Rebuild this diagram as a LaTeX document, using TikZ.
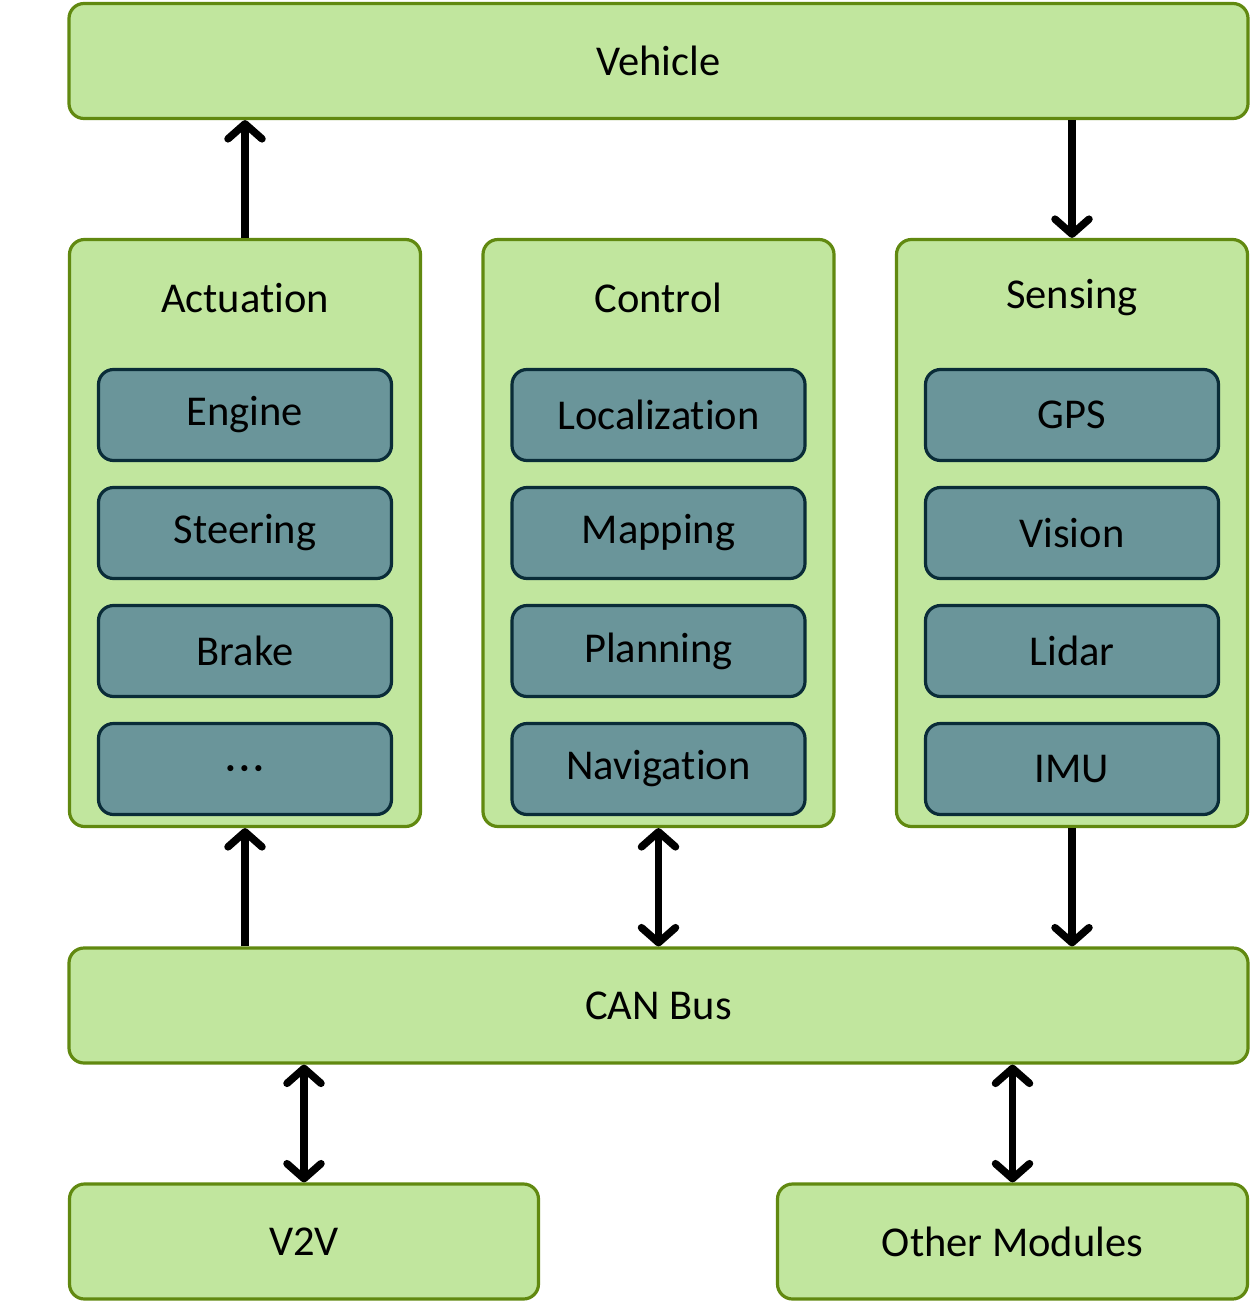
\documentclass[tikz,border=0pt]{standalone}
\usepackage{fontspec}
\setmainfont{Carlito}[Ligatures=NoCommon]
\usetikzlibrary{arrows.meta,calc}
\definecolor{lg}{RGB}{193,230,158}
\definecolor{dg}{RGB}{97,137,16}
\definecolor{tb}{RGB}{106,149,154}
\definecolor{tbd}{RGB}{10,44,56}
\begin{document}
\begin{tikzpicture}[x=1pt,y=-1pt,
  outerbox/.style={draw=dg, fill=lg, line width=3.2pt, rounded corners=15pt, inner sep=0pt, font=\fontsize{42.5}{50}\selectfont},
  innerbox/.style={draw=tbd, fill=tb, line width=3.2pt, rounded corners=15pt, minimum width=293pt, minimum height=91pt, inner sep=0pt, font=\fontsize{42.5}{50}\selectfont},
  title/.style={inner sep=0pt, font=\fontsize{42.5}{50}\selectfont},
  conn/.style={line width=7.5pt, -{Straight Barb[length=15pt,width=34pt,round]}},
  bconn/.style={line width=7.5pt, {Straight Barb[length=15pt,width=34pt,round]}-{Straight Barb[length=15pt,width=34pt,round]}}
]
\useasboundingbox (0,0) rectangle (1260,1303);
% top and bottom bars
\node[outerbox, minimum width=1179pt, minimum height=115pt] (veh) at (658.5,61) {Vehicle};
\node[outerbox, minimum width=1179pt, minimum height=115pt] (can) at (658.5,1005.5) {CAN Bus};
\node[outerbox, minimum width=469pt, minimum height=115pt] (v2v) at (304,1241.5) {V2V};
\node[outerbox, minimum width=470pt, minimum height=115pt] (oth) at (1012.5,1241.5) {Other Modules};
% group boxes
\node[outerbox, minimum width=351pt, minimum height=587pt] (act) at (245,533) {};
\node[outerbox, minimum width=351pt, minimum height=587pt] (ctl) at (658.5,533) {};
\node[outerbox, minimum width=351pt, minimum height=587pt] (sen) at (1072,533) {};
\node[title] (actt) at (245,298) {Actuation};
\node[title] (ctlt) at (658.5,298) {Control};
\node[title] (sent) at (1072,298) {Sensing};
% inner boxes
\node[innerbox] (eng) at (245,415) {Engine};
\node[innerbox] (ste) at (245,533) {Steering};
\node[innerbox] (bra) at (245,651) {Brake};
\node[innerbox] (dts) at (245,769) {\raisebox{-11pt}[0pt][0pt]{·\kern3.5pt·\kern3.5pt·}};
\node[innerbox] (loc) at (658.5,415) {Localization};
\node[innerbox] (map) at (658.5,533) {Mapping};
\node[innerbox] (pla) at (658.5,651) {Planning};
\node[innerbox] (nav) at (658.5,769) {Navigation};
\node[innerbox] (gps) at (1072,415) {GPS};
\node[innerbox] (vis) at (1072,533) {Vision};
\node[innerbox] (lid) at (1072,651) {Lidar};
\node[innerbox] (imu) at (1072,769) {IMU};
% connectors
\draw[conn] (act.north) -- (act.north |- veh.south);
\draw[conn] (veh.south -| sen.north) -- (sen.north);
\draw[conn] (can.north -| act.south) -- (act.south);
\draw[bconn] (ctl.south) -- (ctl.south |- can.north);
\draw[conn] (sen.south) -- (sen.south |- can.north);
\draw[bconn] (can.south -| v2v.north) -- (v2v.north);
\draw[bconn] (can.south -| oth.north) -- (oth.north);
\end{tikzpicture}
\end{document}
